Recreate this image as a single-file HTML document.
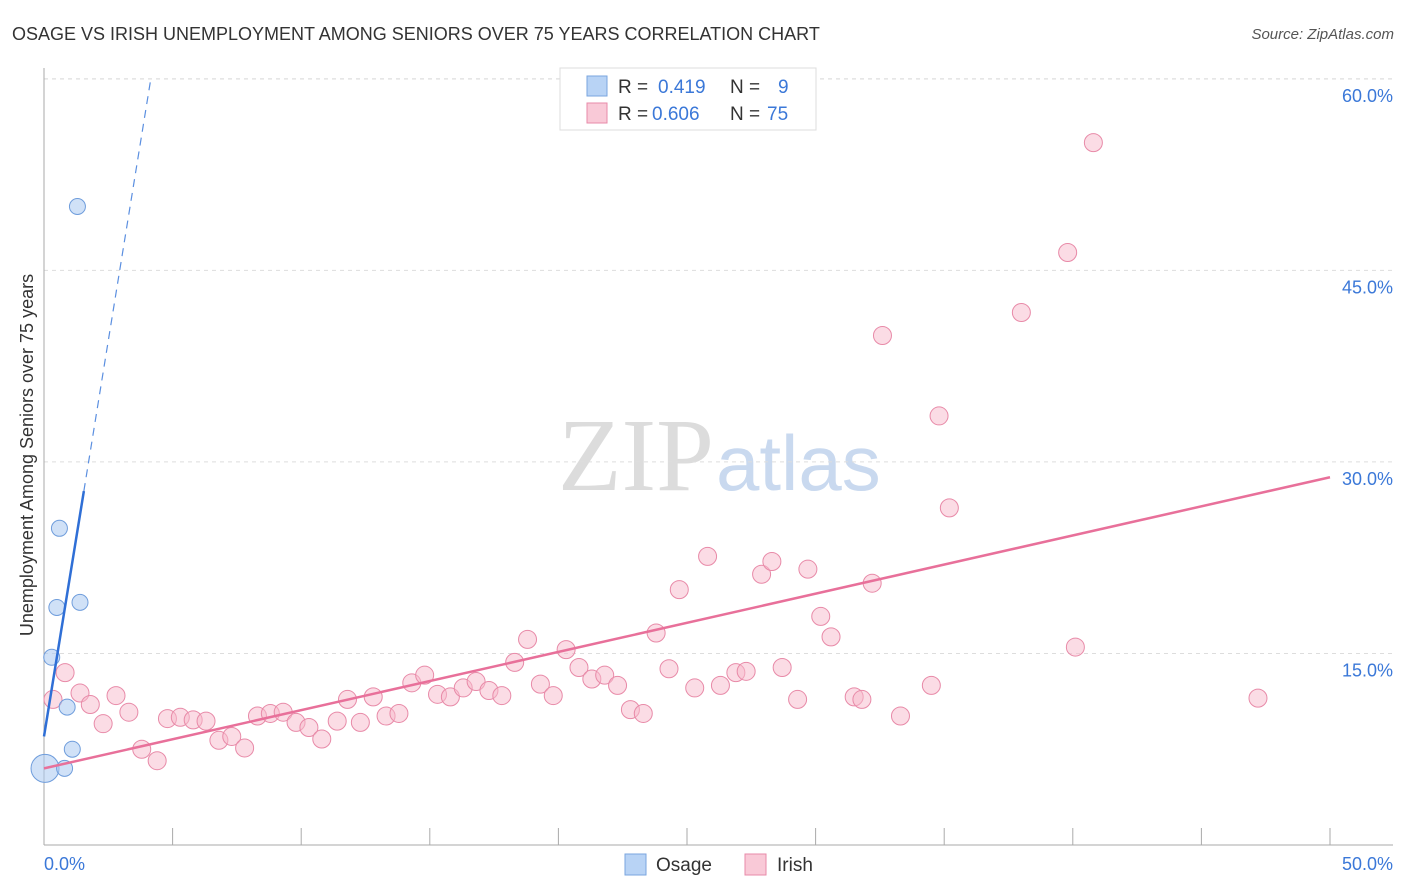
<!DOCTYPE html>
<html><head><meta charset="utf-8"><style>
body{margin:0;background:#fff;font-family:"Liberation Sans",sans-serif;}
svg{display:block}
</style></head><body>
<svg id="chart" width="1406" height="892" xmlns="http://www.w3.org/2000/svg">
<text x="12" y="40" font-size="18" fill="#333">OSAGE VS IRISH UNEMPLOYMENT AMONG SENIORS OVER 75 YEARS CORRELATION CHART</text>
<text x="1394" y="39" font-size="15" fill="#555" text-anchor="end" font-style="italic">Source: ZipAtlas.com</text>
<text x="714" y="490" font-size="104" fill="#dcdcdc" text-anchor="end" font-family="Liberation Serif,serif">ZIP</text>
<text x="716" y="490" font-size="78" fill="#c9d9ef">atlas</text>
<text x="33" y="455" font-size="18" fill="#333" text-anchor="middle" transform="rotate(-90 33 455)">Unemployment Among Seniors over 75 years</text>
<g id="grid"></g><g id="axes"></g><g id="marks"></g>
<g>
<rect x="560" y="68" width="256" height="62" fill="#fff" stroke="#ddd"/>
<rect x="587" y="76" width="20" height="20" fill="#b8d3f5" stroke="#7aa6df"/>
<text x="618" y="93" font-size="19" fill="#333">R = <tspan x="658" fill="#3b78d8">0.419</tspan><tspan x="730">N =</tspan><tspan x="778" fill="#3b78d8">9</tspan></text>
<rect x="587" y="103" width="20" height="20" fill="#f9c9d7" stroke="#e88aa8"/>
<text x="618" y="120" font-size="19" fill="#333">R = <tspan x="652" fill="#3b78d8">0.606</tspan><tspan x="730">N =</tspan><tspan x="767" fill="#3b78d8">75</tspan></text>
</g>
<rect x="625" y="854" width="21" height="21" fill="#b8d3f5" stroke="#7aa6df"/>
<text x="656" y="871" font-size="19" fill="#333">Osage</text>
<rect x="745" y="854" width="21" height="21" fill="#f9c9d7" stroke="#e88aa8"/>
<text x="777" y="871" font-size="19" fill="#333">Irish</text>
</svg>
<script>
const yTicks=[15,30,45,60];
const yTickLabels=["15.0%","30.0%","45.0%","60.0%"];
const xTickLabels=["0.0%","50.0%"];
const osageX=[0.04,0.8,1.1,0.9,0.3,0.5,1.4,0.6,1.3];
const osageY=[6.0,6.0,7.5,10.8,14.7,18.6,19.0,24.8,50.0];
const irishX=[0.35,0.82,1.4,1.8,2.3,2.8,3.3,3.8,4.4,4.8,5.3,5.8,6.3,6.8,7.3,7.8,8.3,8.8,9.3,9.8,10.3,10.8,11.4,11.8,12.3,12.8,13.3,13.8,14.3,14.8,15.3,15.8,16.3,16.8,17.3,17.8,18.3,18.8,19.3,19.8,20.3,20.8,21.3,21.8,22.3,22.8,23.3,23.8,24.3,24.7,25.3,25.8,26.3,26.9,27.3,27.9,28.3,28.7,29.3,29.7,30.2,30.6,31.5,31.8,32.2,32.6,33.3,34.5,34.8,35.2,38.0,39.8,40.1,40.8,47.2];
const irishY=[11.4,13.5,11.9,11.0,9.5,11.7,10.4,7.5,6.6,9.9,10.0,9.8,9.7,8.2,8.5,7.6,10.1,10.3,10.4,9.6,9.2,8.3,9.7,11.4,9.6,11.6,10.1,10.3,12.7,13.3,11.8,11.6,12.3,12.8,12.1,11.7,14.3,16.1,12.6,11.7,15.3,13.9,13.0,13.3,12.5,10.6,10.3,16.6,13.8,20.0,12.3,22.6,12.5,13.5,13.6,21.2,22.2,13.9,11.4,21.6,17.9,16.3,11.6,11.4,20.5,39.9,10.1,12.5,33.6,26.4,41.7,46.4,15.5,55.0,11.5];
const irishTrend=[6.0,0.456];
const osageTrend=[8.5,12.4];
const NS="http://www.w3.org/2000/svg";
const sx=v=>44+v*25.72, sy=v=>845-v*12.77;
function mk(p,t,a){const e=document.createElementNS(NS,t);for(const k in a)e.setAttribute(k,a[k]);document.getElementById(p).appendChild(e);return e;}
yTicks.forEach((t,i)=>{
 const l=mk('grid','line',{x1:44,x2:1393,y1:sy(t),y2:sy(t),stroke:'#ddd','stroke-dasharray':'4,4'});
 
 
 const tx=mk('grid','text',{x:1393,y:sy(t)+23,'font-size':18,fill:'#3b78d8','text-anchor':'end'});tx.textContent=yTickLabels[i];
 
 
});
const topGrid=mk('grid','line',{x1:44,x2:1393,y1:79,y2:79,stroke:'#ddd','stroke-dasharray':'4,4'});


const xa=mk('axes','line',{x1:44,x2:1393,y1:845,y2:845,stroke:'#aaa'});


const ya=mk('axes','line',{x1:44,x2:44,y1:68,y2:845,stroke:'#aaa'});


for(let i=0;i<=10;i++){const t=mk('axes','line',{x1:sx(i*5),x2:sx(i*5),y1:828,y2:845,stroke:'#aaa'});
 
 }
const xl0=mk('axes','text',{x:44,y:870,'font-size':18,fill:'#3b78d8'});xl0.textContent=xTickLabels[0];


const xl1=mk('axes','text',{x:1393,y:870,'font-size':18,fill:'#3b78d8','text-anchor':'end'});xl1.textContent=xTickLabels[1];


irishX.forEach((x,i)=>{const c=mk('marks','circle',{cx:sx(x),cy:sy(irishY[i]),r:9,fill:'#f7b9cc','fill-opacity':0.5,stroke:'#e88aa8','stroke-width':1});
 
 });
osageX.forEach((x,i)=>{const c=mk('marks','circle',{cx:sx(x),cy:sy(osageY[i]),r:i==0?14:8,fill:'#a9c8f0','fill-opacity':0.55,stroke:'#6f9ddc','stroke-width':1});
 
 });
const it=mk('marks','line',{x1:sx(0),y1:sy(irishTrend[0]),x2:sx(50),y2:sy(irishTrend[0]+50*irishTrend[1]),stroke:'#e8709a','stroke-width':2.5});


const xs=1.55, xe=(60-osageTrend[0])/osageTrend[1];
const ot=mk('marks','line',{x1:sx(0),y1:sy(osageTrend[0]),x2:sx(xs),y2:sy(osageTrend[0]+xs*osageTrend[1]),stroke:'#2f6fd6','stroke-width':2.5});


const od=mk('marks','line',{x1:sx(xs),y1:sy(osageTrend[0]+xs*osageTrend[1]),x2:sx(xe),y2:sy(60),stroke:'#5b8fe0','stroke-width':1.2,'stroke-dasharray':'8,6'});


</script>
</body></html>
